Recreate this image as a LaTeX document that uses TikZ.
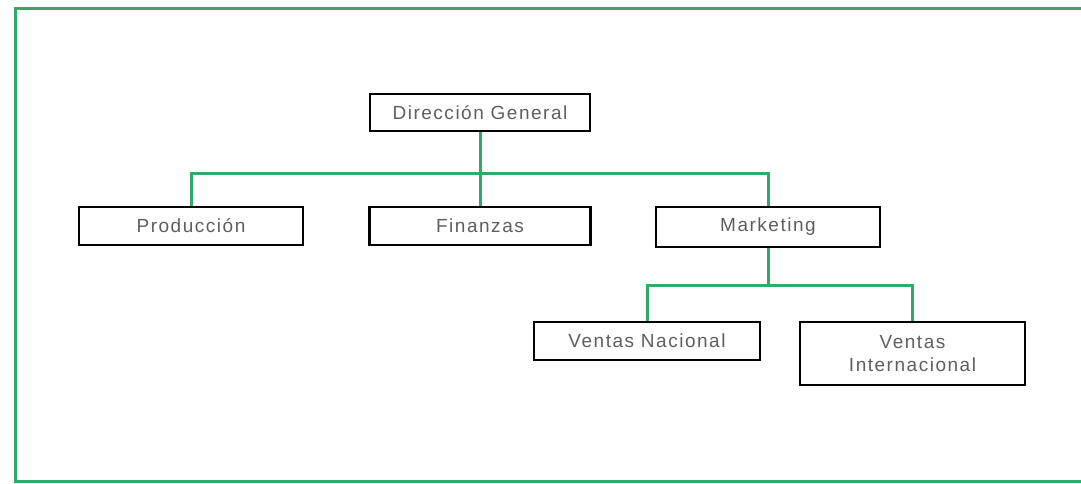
\documentclass[tikz,border=0pt]{standalone}
\usepackage{fontspec}
\setmainfont{Liberation Sans}[LetterSpace=8]
\usetikzlibrary{backgrounds}
\definecolor{orggreen}{RGB}{52,168,104}
\definecolor{labelgray}{RGB}{95,95,95}
\tikzset{
  unit/.style={draw=black, line width=2.9pt, fill=white, inner sep=0pt,
    text=labelgray, font=\fontsize{19}{23}\selectfont, align=center},
  link/.style={draw=orggreen, line width=3pt},
  frame/.style={draw=orggreen, line width=3pt}
}
\begin{document}
\begin{tikzpicture}[x=1pt,y=-1pt]
\useasboundingbox (0,0) rectangle (1081,483);

% organisational units
\node[unit, minimum width=220pt, minimum height=37pt] (dg) at (480,112.5) {Dirección General};
\node[unit, minimum width=224pt, minimum height=38pt] (prod) at (191,226) {Producción};
\node[unit, minimum width=221pt, minimum height=38pt] (fin) at (480,226) {Finanzas};
\node[unit, minimum width=224pt, minimum height=40pt] (mkt) at (768,227) {Marketing};
\node[unit, minimum width=226pt, minimum height=38pt] (vn) at (647,341) {Ventas Nacional};
\node[unit, minimum width=225pt, minimum height=63pt] (vi) at (912.5,353.5) {Ventas\\Internacional};

% bus points
\coordinate (bus1) at (480,173);
\coordinate (bus2) at (768,285);

\begin{scope}[on background layer]
\fill[white] (0,0) rectangle (1081,483);
% outer frame (open on the right)
\draw[frame] (1090,8) -- (15,8) -- (15,481) -- (1090,481);
\draw[link] (dg.south) -- (fin.north);
\draw[link] (prod.north) |- (bus1) -| (mkt.north);
\draw[link] (mkt.south) -- (bus2);
\draw[link] (vn.north) |- (bus2) -| (vi.north);
\end{scope}
\end{tikzpicture}
\end{document}
